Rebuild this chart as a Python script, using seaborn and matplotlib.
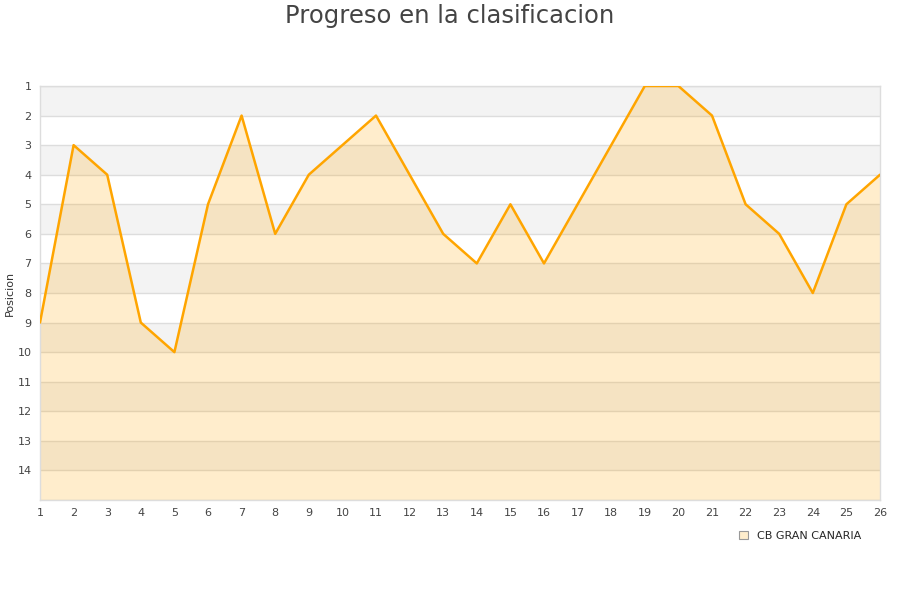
"""
Progress chart: league position per round for CB Gran Canaria.
Saves out.png (900x600).
"""

import matplotlib.pyplot as plt
import matplotlib.patches as mpatches
import pandas as pd
import seaborn as sns

JORNADAS = list(range(1, 27))
POSICIONES = [9, 3, 4, 9, 10, 5, 2, 6, 4, 3, 2, 4, 6, 7, 5, 7, 5, 3, 1, 1, 2, 5, 6, 8, 5, 4]
Y_TICKS = list(range(1, 15))
EQUIPO = "CB GRAN CANARIA"

LINE_COLOR = "#ffa500"
FILL_COLOR = "#ffa500"
BAND_COLOR = "#f3f3f3"
GRID_COLOR = "#dddddd"

sns.set_theme(style="white")
plt.rcParams["font.family"] = ["DejaVu Sans"]

df = pd.DataFrame({"jornada": JORNADAS, "posicion": POSICIONES})

fig = plt.figure(figsize=(9, 6), dpi=100)
ax = fig.add_axes([40 / 900, 1 - 500 / 600, 840 / 900, 414 / 600])

# alternating horizontal bands (gray between odd and even positions)
for y in range(1, 15, 2):
    ax.axhspan(y, y + 1, color=BAND_COLOR, zorder=0, lw=0)
for y in range(1, 16):
    ax.axhline(y, color=GRID_COLOR, lw=1, zorder=1)

ax.fill_between(df["jornada"], df["posicion"], 15, color=FILL_COLOR, alpha=0.2, lw=0, zorder=2)
sns.lineplot(data=df, x="jornada", y="posicion", ax=ax, color=LINE_COLOR, linewidth=1.8, zorder=3)

ax.set_xlim(1, 26)
ax.set_ylim(15, 1)
ax.set_xticks(JORNADAS)
ax.set_yticks(Y_TICKS)
ax.tick_params(axis="both", labelsize=8, colors="#444444", length=0, pad=6)
ax.set_xlabel("")
ax.set_ylabel("Posicion", fontsize=8, color="#333333", labelpad=2)
for side in ax.spines.values():
    side.set_color(GRID_COLOR)
    side.set_linewidth(1)

fig.suptitle("Progreso en la clasificacion", fontsize=17.5, color="#444444", y=0.993)

handle = mpatches.Patch(facecolor="#feedcc", edgecolor="#999999", linewidth=0.8, label=EQUIPO)
fig.legend(handles=[handle], loc="center", bbox_to_anchor=(800 / 900, 1 - 536 / 600),
           frameon=False, fontsize=8, handlelength=0.8, handleheight=0.8, handletextpad=0.8)

fig.savefig("out.png", dpi=100)
plt.close(fig)
